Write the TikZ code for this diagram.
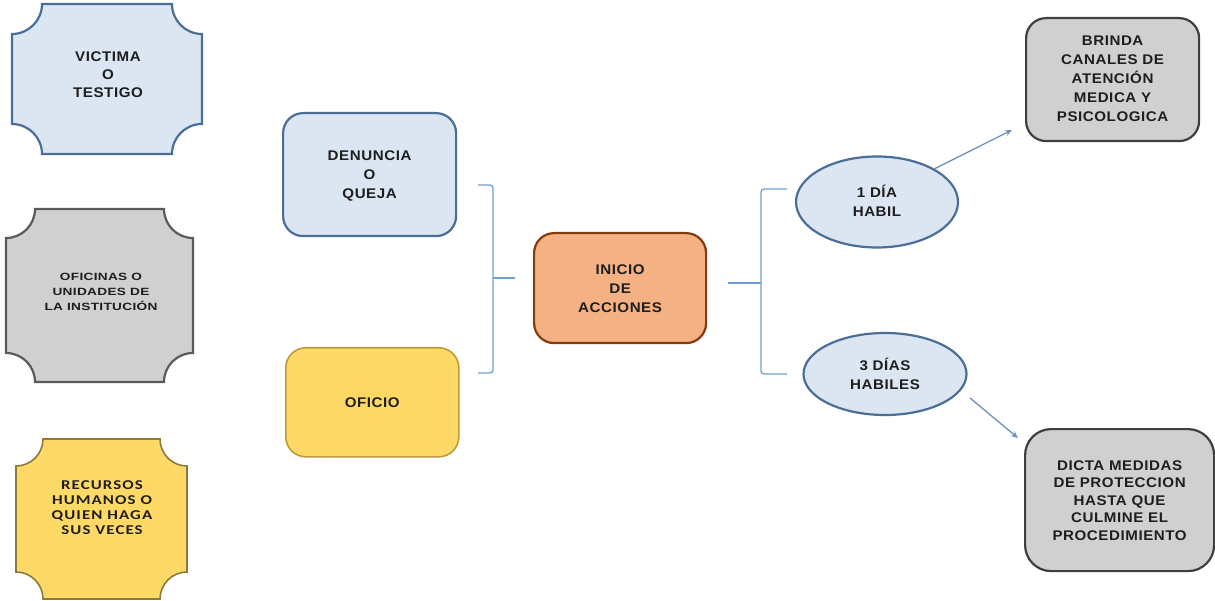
\documentclass[tikz,border=0pt]{standalone}
\usepackage{fontspec}
\setmainfont{Liberation Sans}
\newfontfamily\lsfont[FakeStretch=1.08,LetterSpace=4]{Liberation Sans}
\newfontfamily\lswfont[FakeStretch=1.3,LetterSpace=3]{Liberation Sans}
\newfontfamily\calfont[FakeStretch=1.25,LetterSpace=8]{Carlito}
\usetikzlibrary{arrows.meta,shapes.geometric}
\definecolor{lblue}{HTML}{DCE6F2}
\definecolor{bblue}{HTML}{4A6E96}
\definecolor{ggray}{HTML}{D0D0D0}
\definecolor{bgray}{HTML}{5A5A5A}
\definecolor{dgray}{HTML}{3F3F3F}
\definecolor{yfill}{HTML}{FFD966}
\definecolor{ybord}{HTML}{8C7A3C}
\definecolor{ybord2}{HTML}{BF9A3A}
\definecolor{ofill}{HTML}{F4B183}
\definecolor{obord}{HTML}{843C0C}
\definecolor{brcol}{HTML}{6E9FD4}
\definecolor{arcol}{HTML}{6F90C0}
\definecolor{txt}{HTML}{1E1E1E}
\newcommand\plaquebox[6]{%
  \path[#6] ({#1+#5},{#2}) -- ({#3-#5},{#2})
    .. controls ({#3-#5},{#2+0.552*#5}) and ({#3-0.552*#5},{#2+#5}) .. ({#3},{#2+#5})
    -- ({#3},{#4-#5})
    .. controls ({#3-0.552*#5},{#4-#5}) and ({#3-#5},{#4-0.552*#5}) .. ({#3-#5},{#4})
    -- ({#1+#5},{#4})
    .. controls ({#1+#5},{#4-0.552*#5}) and ({#1+0.552*#5},{#4-#5}) .. ({#1},{#4-#5})
    -- ({#1},{#2+#5})
    .. controls ({#1+0.552*#5},{#2+#5}) and ({#1+#5},{#2+0.552*#5}) .. cycle;}
\tikzset{
  lbl/.style={align=center, text=txt, font=\lsfont\bfseries\fontsize{14}{19}\selectfont},
  rbox/.style={draw, line width=2.2pt, rounded corners=20pt, anchor=north west, inner sep=0pt},
  ell/.style={ellipse, draw=bblue, fill=lblue, line width=2.2pt, inner sep=0pt},
  brace/.style={draw=brcol, line width=1.3pt, rounded corners=3pt},
  arr/.style={draw=arcol, line width=1.3pt, -{Stealth[length=7pt,width=6pt]}}
}
\begin{document}
\begin{tikzpicture}[x=1pt,y=-1pt]
\useasboundingbox (0,0) rectangle (1215,601);
% left plaques
\plaquebox{12}{4}{202}{154}{30}{draw=bblue, fill=lblue, line width=2.2pt}
\node[lbl, font=\lsfont\bfseries\fontsize{14}{18}\selectfont] (vic) at (108,75) {VICTIMA\\O\\TESTIGO};
\plaquebox{6}{209}{193}{382}{29}{draw=bgray, fill=ggray, line width=2.2pt}
\node[lbl, font=\lswfont\bfseries\fontsize{10.5}{15}\selectfont] (ofi) at (101,292) {OFICINAS O\\UNIDADES DE\\LA INSTITUCIÓN};
\plaquebox{16}{439}{187}{599}{27}{draw=ybord, fill=yfill, line width=1.6pt}
\node[lbl, font=\calfont\bfseries\fontsize{13.5}{15}\selectfont] (rec) at (102,508) {RECURSOS\\HUMANOS O\\QUIEN HAGA\\SUS VECES};
% middle boxes
\node[rbox, draw=bblue, fill=lblue, minimum width=173pt, minimum height=123pt] (den) at (282,112) {};
\node[lbl] at (den.center) [yshift=-1pt] {DENUNCIA\\O\\QUEJA};
\node[rbox, draw=ybord2, fill=yfill, line width=1.6pt, minimum width=173pt, minimum height=109pt] (ofc) at (285,347) {};
\node[lbl] at (ofc.center) {OFICIO};
\node[rbox, draw=obord, fill=ofill, minimum width=172pt, minimum height=110pt] (ini) at (533,232) {};
\node[lbl] at (ini.center) [yshift=-1pt] {INICIO\\DE\\ACCIONES};
% bracket 1
\coordinate (b1t) at (478,185);
\coordinate (b1b) at (478,373);
\coordinate (b1m) at (493,278);
\coordinate (b1e) at (515,278);
\draw[brace] (b1t) -- (493,185) -- (493,373) -- (b1b);
\draw[brace] (b1m) -- (b1e);
% bracket 2
\coordinate (b2s) at (728,283);
\coordinate (b2m) at (761,283);
\coordinate (b2t) at (787,189);
\coordinate (b2b) at (787,374);
\draw[brace] (b2t) -- (761,189) -- (761,374) -- (b2b);
\draw[brace] (b2s) -- (b2m);
% ellipses
\node[ell, minimum width=162pt, minimum height=91pt] (e1) at (877,202) {};
\node[lbl] at (e1.center) [yshift=1pt] {1 DÍA\\HABIL};
\node[ell, minimum width=163pt, minimum height=82pt] (e3) at (885,374) {};
\node[lbl] at (e3.center) {3 DÍAS\\HABILES};
% right boxes
\node[rbox, draw=dgray, fill=ggray, minimum width=173pt, minimum height=123pt] (bri) at (1025,17) {};
\node[lbl] at (bri.center) [yshift=1pt] {BRINDA\\CANALES DE\\ATENCIÓN\\MEDICA Y\\PSICOLOGICA};
\node[rbox, draw=dgray, fill=ggray, rounded corners=26pt, minimum width=189pt, minimum height=142pt] (dic) at (1024,428) {};
\node[lbl, font=\lsfont\bfseries\fontsize{14}{17.5}\selectfont] at (dic.center) [yshift=-0.5pt] {DICTA MEDIDAS\\DE PROTECCION\\HASTA QUE\\CULMINE EL\\PROCEDIMIENTO};
% arrows
\draw[arr] (e1.30) -- (1012,130);
\draw[arr] (970,398) -- (1018,438);
\end{tikzpicture}
\end{document}
